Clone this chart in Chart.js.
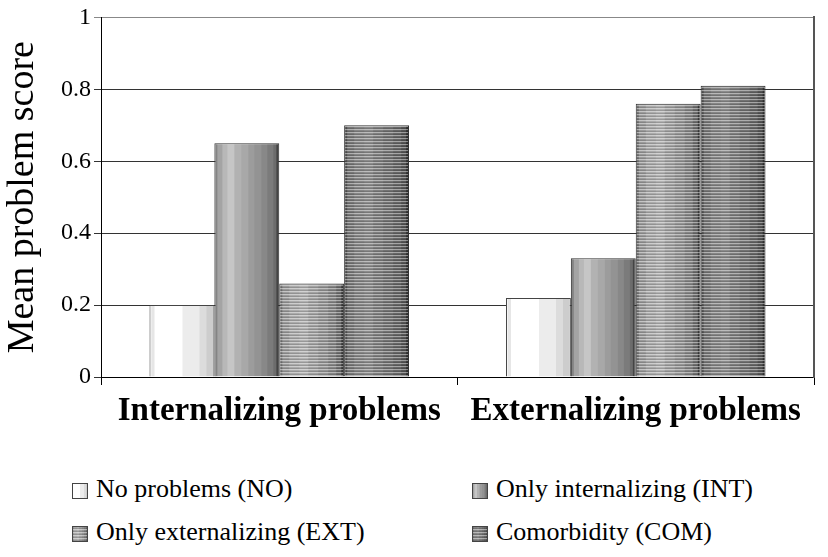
<!DOCTYPE html>
<html lang="en">
<head>
<meta charset="UTF-8">
<title>Mean problem score</title>
<script src="https://cdn.jsdelivr.net/npm/chart.js"></script>
<style>
    body { margin: 0; background: #fff; width: 828px; height: 557px; overflow: hidden; position: relative; }
    #wrap { position: absolute; left: 0; top: 0; width: 828px; height: 440px; }
    .item { position: absolute; font-family: "Liberation Serif", "Times New Roman", serif; font-size: 26px; line-height: 30px; color: #000; white-space: nowrap; }
    .item canvas { position: absolute; left: -24px; top: 9px; }
</style>
</head>
<body>
<div id="wrap"><canvas id="chart" width="828" height="440"></canvas></div>
<div id="legend"></div>
<script>
    // data
    const categories = ['Internalizing problems', 'Externalizing problems'];
    const groups = ['No problems (NO)', 'Only internalizing (INT)', 'Only externalizing (EXT)', 'Comorbidity (COM)'];
    const noProblems = [0.20, 0.22];
    const onlyInt = [0.65, 0.33];
    const onlyExt = [0.26, 0.76];
    const comorbid = [0.70, 0.81];
    const yTicks = [0, 0.2, 0.4, 0.6, 0.8, 1];

    const CAT_PCT = 0.728;
    const serif = "'Liberation Serif', 'Times New Roman', serif";

    // column shading across each bar (fraction of bar width, colour)
    const shades = {
        NO: [[0, '#f4f4f4'], [0.03, '#e6e6e6'], [0.08, '#ffffff'], [0.5, '#ececec'], [0.77, '#dcdcdc'], [0.88, '#cdcdcd']],
        INT: [[0, '#848484'], [0.04, '#a4a4a4'], [0.12, '#b8b8b8'], [0.2, '#c6c6c6'], [0.3, '#b2b2b2'], [0.42, '#a8a8a8'],
              [0.52, '#9c9c9c'], [0.62, '#939393'], [0.72, '#888888'], [0.82, '#7b7b7b'], [0.9, '#6c6c6c'], [0.96, '#444444']],
        EXT: [[0, '#777777'], [0.04, '#9a9a9a'], [0.15, '#aaaaaa'], [0.3, '#b2b2b2'], [0.45, '#a2a2a2'], [0.6, '#959595'],
              [0.75, '#858585'], [0.87, '#6e6e6e'], [0.96, '#3c3c3c']],
        COM: [[0, '#555555'], [0.04, '#777777'], [0.15, '#858585'], [0.3, '#8c8c8c'], [0.45, '#7e7e7e'], [0.6, '#737373'],
              [0.75, '#666666'], [0.87, '#555555'], [0.96, '#333333']]
    };
    const lined = { NO: false, INT: false, EXT: true, COM: true };
    const kinds = ['NO', 'INT', 'EXT', 'COM'];
    const flat = { NO: '#f2f2f2', INT: '#9a9a9a', EXT: '#9a9a9a', COM: '#707070' };

    function makeTile(kind, w) {
        w = Math.max(1, Math.round(w));
        const c = document.createElement('canvas');
        c.width = w; c.height = 3;
        const g = c.getContext('2d');
        const s = shades[kind];
        for (let i = 0; i < s.length; i++) {
            const x0 = Math.round(s[i][0] * w);
            const x1 = i + 1 < s.length ? Math.round(s[i + 1][0] * w) : w;
            g.fillStyle = s[i][1];
            g.fillRect(x0, 0, x1 - x0, 3);
        }
        if (lined[kind]) {
            g.fillStyle = 'rgba(255,255,255,0.42)';
            g.fillRect(0, 0, w, 1);
            g.fillStyle = 'rgba(0,0,0,0.14)';
            g.fillRect(0, 2, w, 1);
        }
        return c;
    }

    function barFill(c) {
        const kind = kinds[c.datasetIndex];
        const xs = c.chart.scales.x;
        if (c.type !== 'data' || !xs || !xs.width) return flat[kind];
        const groupW = xs.width / categories.length * CAT_PCT;
        const barW = groupW / groups.length;
        const left = xs.getPixelForValue(c.dataIndex) - groupW / 2 + c.datasetIndex * barW;
        const p = c.chart.ctx.createPattern(makeTile(kind, barW), 'repeat');
        p.setTransform(new DOMMatrix().translateSelf(left, 0));
        return p;
    }

    const series = [noProblems, onlyInt, onlyExt, comorbid];

    new Chart(document.getElementById('chart'), {
        type: 'bar',
        data: {
            labels: categories,
            datasets: series.map((vals, i) => ({
                label: groups[i],
                data: vals,
                backgroundColor: barFill,
                borderColor: i === 0 ? '#444' : '#333',
                borderWidth: 1,
                borderSkipped: 'bottom',
                barPercentage: 1,
                categoryPercentage: CAT_PCT
            }))
        },
        options: {
            responsive: false,
            animation: false,
            devicePixelRatio: 1,
            layout: { padding: { top: 15, right: 14, left: 0, bottom: 0 } },
            plugins: { legend: { display: false }, tooltip: { enabled: false } },
            scales: {
                x: {
                    offset: true,
                    grid: { offset: true, drawOnChartArea: false, color: '#000', tickLength: 8 },
                    border: { color: '#000' },
                    ticks: { color: '#000', padding: 7, maxRotation: 0, font: { family: serif, size: 33, weight: 'bold' } },
                    afterFit: s => { s.height = 63; }
                },
                y: {
                    min: 0, max: 1,
                    afterBuildTicks: s => { s.ticks = yTicks.map(v => ({ value: v })); },
                    grid: { color: c => c.tick && c.tick.value === 1 ? '#888' : '#333', tickLength: 7 },
                    border: { color: '#000' },
                    ticks: { color: '#000', padding: 3, font: { family: serif, size: 24 }, callback: v => String(v) },
                    title: { display: true, text: 'Mean problem score', color: '#000', padding: 0, font: { family: serif, size: 38 } },
                    afterFit: s => { s.width = 101; }
                },
                yRight: {
                    position: 'right', min: 0, max: 1,
                    grid: { drawOnChartArea: false, drawTicks: false },
                    border: { color: '#555', width: 2 },
                    ticks: { display: false },
                    afterFit: s => { s.width = 0; }
                }
            }
        }
    });

    // legend in two columns, as in the figure
    const spots = [[96, 474], [496, 474], [96, 517], [496, 517]];
    const legend = document.getElementById('legend');
    groups.forEach((name, i) => {
        const d = document.createElement('div');
        d.className = 'item';
        d.style.left = spots[i][0] + 'px';
        d.style.top = spots[i][1] + 'px';
        const sw = document.createElement('canvas');
        sw.width = 16; sw.height = 16;
        const g = sw.getContext('2d');
        g.fillStyle = g.createPattern(makeTile(kinds[i], 16), 'repeat');
        g.fillRect(0, 0, 16, 16);
        g.strokeStyle = '#444';
        g.strokeRect(0.5, 0.5, 15, 15);
        d.appendChild(sw);
        d.appendChild(document.createTextNode(name));
        legend.appendChild(d);
    });
</script>
</body>
</html>
